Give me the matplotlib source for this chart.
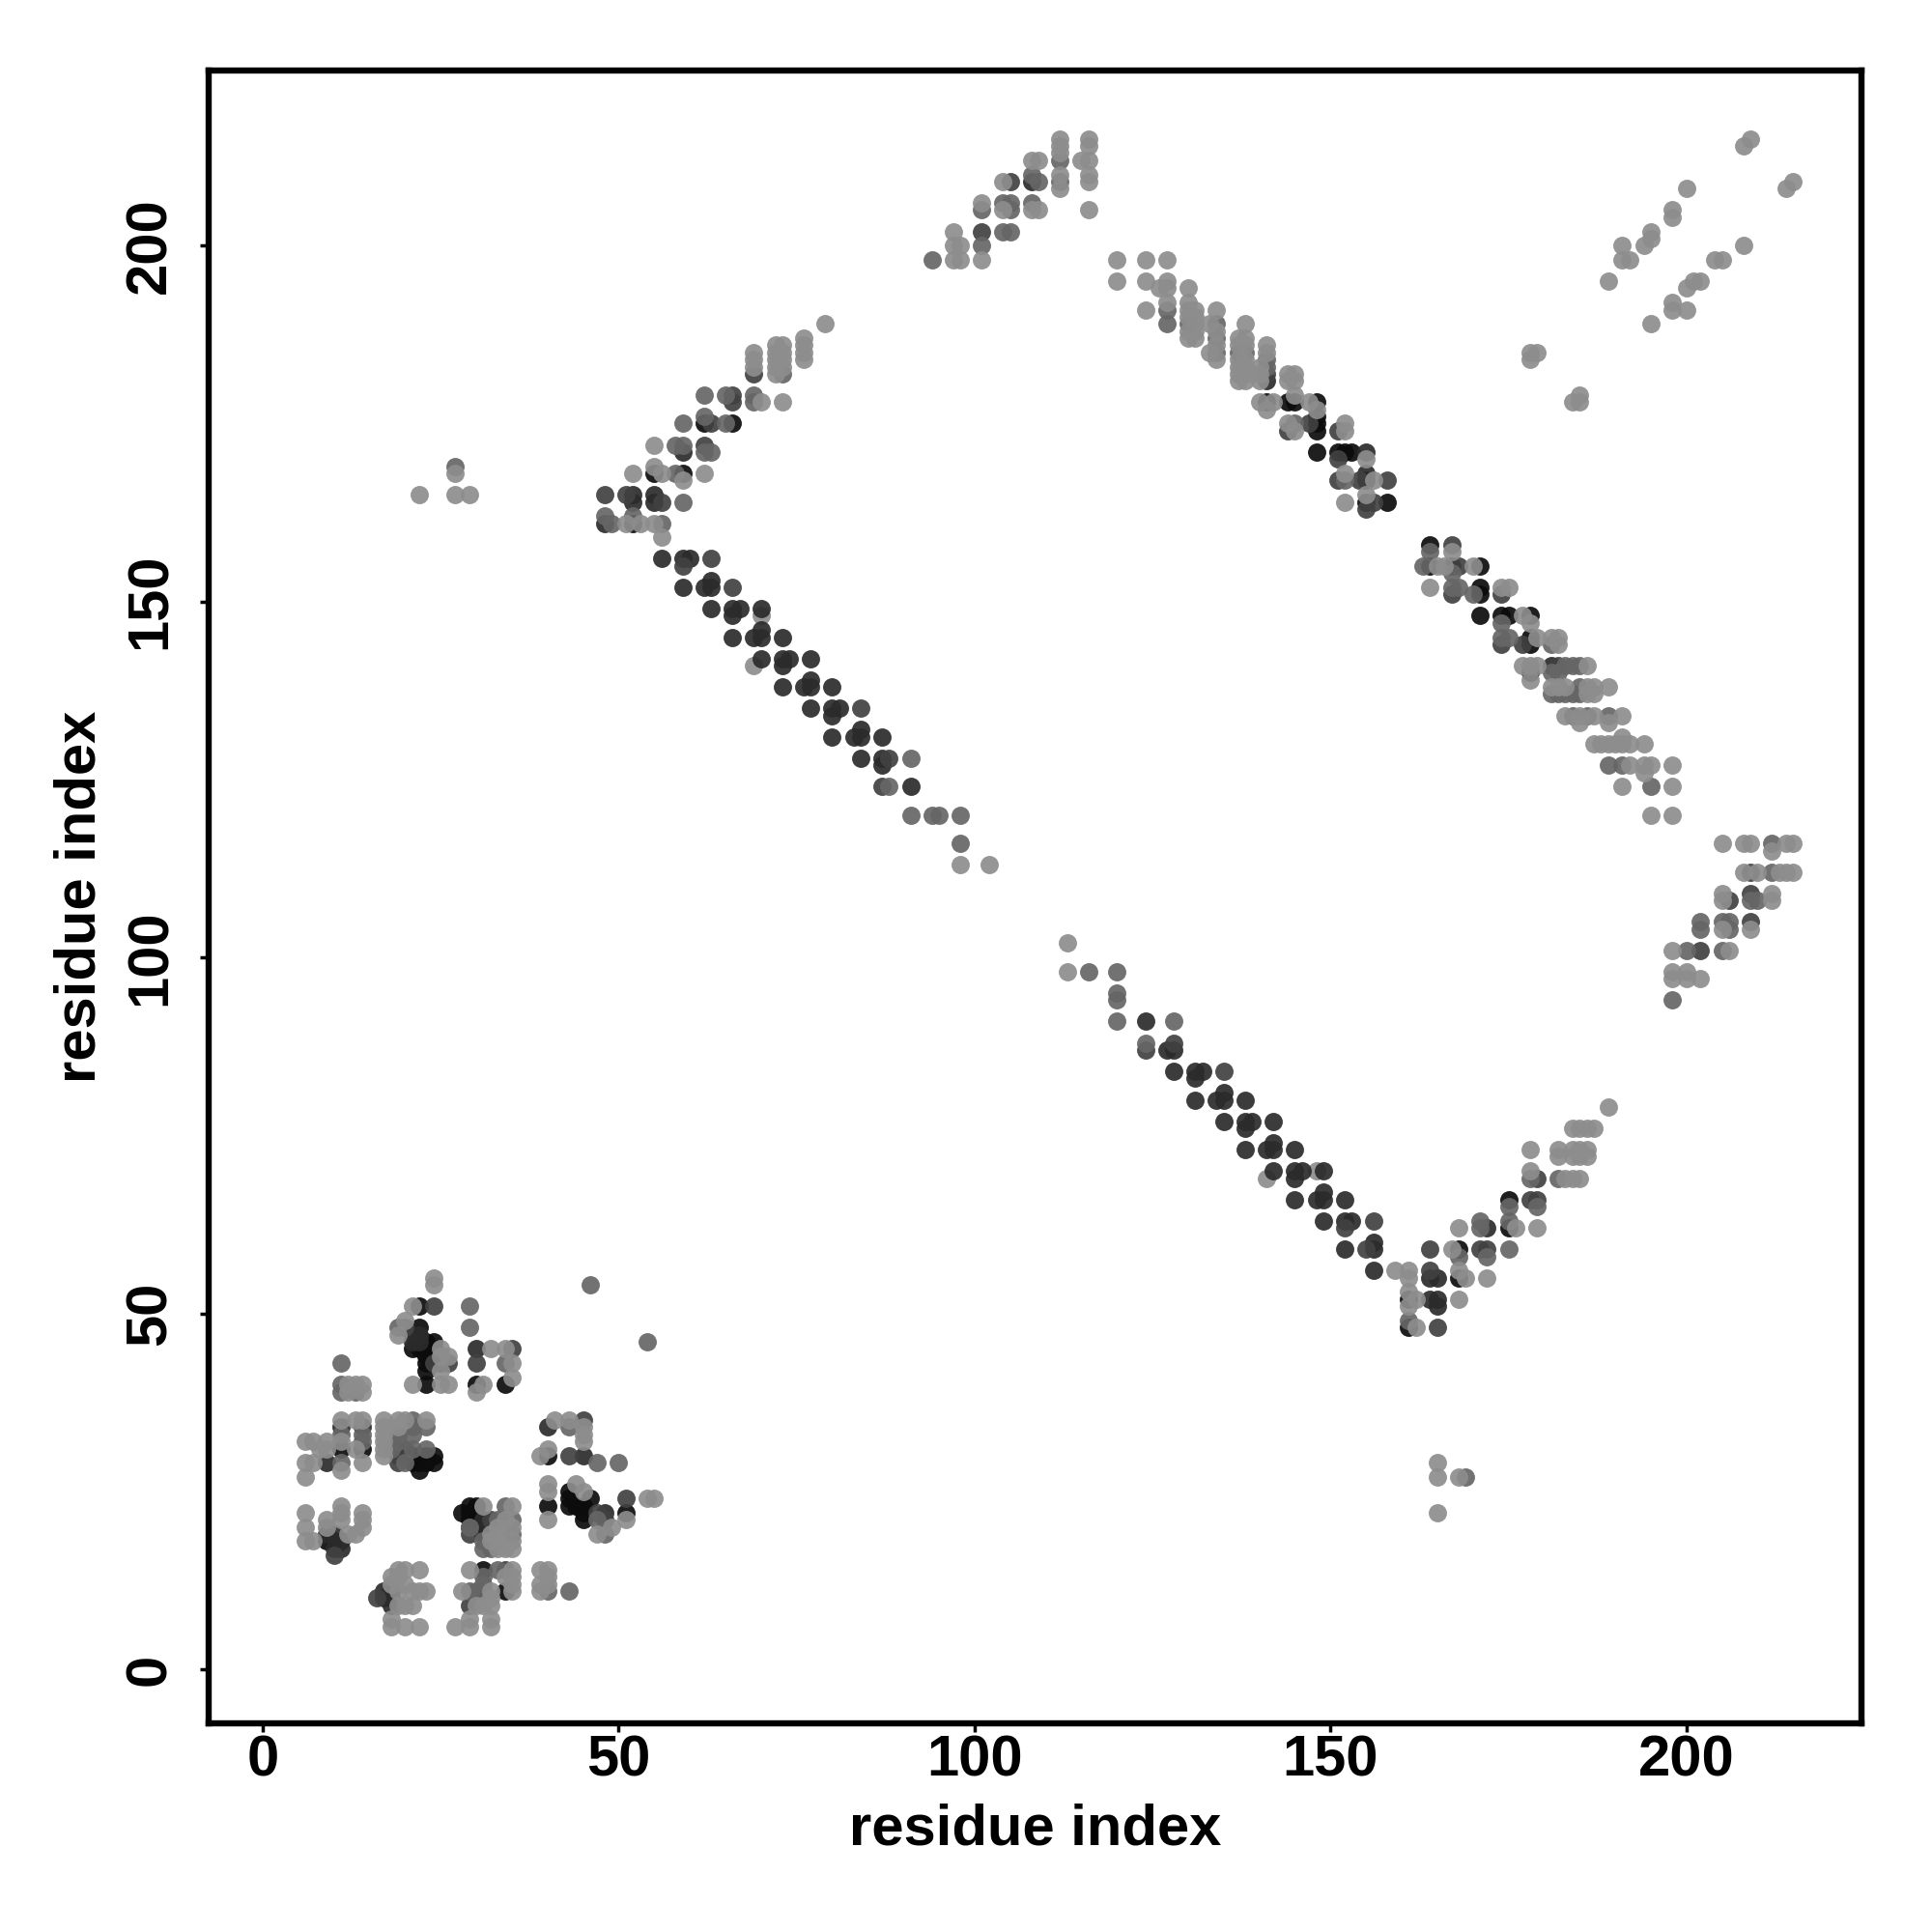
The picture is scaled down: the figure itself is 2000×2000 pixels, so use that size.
"""Residue contact map, greyscale dots on a residue index grid."""

import matplotlib
import matplotlib.pyplot as plt
import numpy as np

matplotlib.use("Agg")

plt.rcParams["font.family"] = ["Liberation Sans", "DejaVu Sans"]
plt.rcParams["font.weight"] = "bold"

TICKS = [0, 50, 100, 150, 200]
AXIS_LABEL = "residue index"

# (residue, residue) pairs, one list per grey level
under = [(141, 69), (148, 70), (69, 141), (70, 148)]

light = [
    # lower helix and V
    (113, 102), (113, 98), (159, 56), (161, 56), (189, 79), (184, 76), (185, 76), (186, 76), (187, 76),
    (178, 73), (182, 73), (184, 73), (185, 73), (186, 73), (182, 72), (184, 72), (185, 72), (186, 72),
    (183, 69), (184, 69), (185, 69), (178, 70), (168, 62), (176, 62), (179, 62), (167, 59), (168, 56),
    (161, 55), (169, 55), (172, 55), (161, 53), (162, 52), (168, 52), (161, 51), (162, 48),
    # upper left
    (22, 165), (27, 165), (29, 165), (27, 168), (79, 189), (69, 185), (69, 184), (69, 183),
    (72, 186), (73, 186), (72, 185), (73, 185), (72, 184), (73, 184), (72, 183), (73, 183), (72, 182),
    (76, 187), (76, 186), (76, 185), (76, 184), (70, 178), (73, 178), (55, 172), (55, 169), (52, 168),
    (56, 168), (62, 168), (59, 167), (53, 161), (55, 161), (51, 161), (56, 159), (98, 113), (102, 113),
    # top
    (97, 198), (98, 198), (101, 198), (97, 200), (98, 200), (97, 202), (101, 206), (104, 205), (108, 205),
    (109, 205), (104, 209), (108, 212), (109, 212), (112, 215), (112, 214), (112, 213), (112, 210),
    (112, 208), (116, 215), (116, 214), (115, 212), (116, 212), (116, 210), (116, 209), (116, 205),
    # top right
    (209, 215), (208, 214), (215, 209), (214, 208), (200, 208), (198, 205), (198, 204), (195, 202),
    (195, 201), (194, 200), (191, 200), (191, 198), (192, 198), (189, 195), (208, 200), (204, 198),
    (205, 198), (202, 195), (201, 195), (200, 194), (198, 192), (198, 191), (200, 191), (195, 189),
    (178, 185), (179, 185), (178, 184), (185, 179), (185, 178), (184, 178),
    (165, 29), (165, 27), (168, 27), (165, 22),
    # upper right helix
    (120, 198), (124, 198), (127, 198), (120, 195), (124, 195), (127, 195), (126, 194), (127, 194),
    (127, 192), (124, 191), (130, 194), (130, 192), (130, 191), (130, 190), (130, 188), (130, 187),
    (131, 191), (131, 190), (131, 189), (131, 188), (131, 187), (133, 189), (133, 185), (134, 191),
    (134, 188), (134, 186), (134, 184), (137, 187), (137, 186), (137, 184), (137, 183), (137, 182),
    (137, 181), (138, 189), (138, 187), (138, 186), (138, 184), (138, 183), (138, 182), (138, 181),
    (140, 183), (140, 182), (140, 181), (141, 186), (141, 185), (144, 182), (145, 182), (144, 181),
    (145, 181), (140, 178), (142, 178), (141, 177), (145, 179), (147, 178), (148, 177), (144, 175),
    (145, 174), (155, 170), (152, 175), (152, 174), (152, 168), (156, 167), (155, 165), (152, 164),
    (167, 157), (165, 155), (166, 155), (170, 155), (164, 152), (174, 152), (175, 152), (177, 148),
    (178, 147), (179, 145), (181, 145), (182, 145), (182, 144), (177, 141), (178, 141), (179, 141),
    (186, 141), (178, 139), (181, 138), (182, 138), (183, 138), (186, 138), (187, 138), (189, 138),
    (186, 137), (187, 137), (183, 134), (185, 134), (187, 134), (191, 134), (185, 133), (189, 133),
    (187, 130), (188, 130), (189, 130), (190, 130), (191, 130), (192, 130), (194, 130), (191, 131),
    (192, 127), (194, 127), (195, 127), (198, 127), (194, 126), (191, 124), (198, 124), (195, 120), (198, 120),
    # right edge
    (205, 116), (208, 116), (209, 116), (214, 116), (215, 116), (212, 115), (208, 112), (210, 112),
    (213, 112), (214, 112), (215, 112), (205, 109), (212, 109), (205, 108), (212, 108), (205, 104),
    (209, 104), (198, 101), (206, 101), (198, 98), (200, 98), (198, 97), (200, 97), (202, 97),
    # bottom left cluster
    (24, 55), (24, 54), (21, 51), (20, 49), (19, 47), (25, 45), (26, 44), (25, 44), (25, 42), (32, 45), (34, 45),
    (35, 43), (35, 41), (12, 40), (13, 40), (14, 40), (21, 40), (25, 40), (26, 40), (31, 40), (30, 39),
    (12, 39), (14, 39), (11, 35), (13, 35), (14, 35), (17, 35), (19, 35), (20, 35), (23, 35), (41, 35),
    (43, 35), (45, 34), (17, 34), (19, 34), (17, 33), (6, 32), (7, 32), (9, 32),
    (11, 32), (17, 32), (45, 33), (45, 32), (40, 31), (8, 31), (9, 31), (13, 31), (17, 31),
    (17, 30), (39, 30), (6, 29), (7, 29), (14, 29), (11, 28), (6, 27),
    (40, 26), (44, 26), (40, 25), (45, 25), (40, 21), (51, 21), (54, 24), (55, 24), (49, 20), (47, 19),
    (31, 23), (35, 23), (34, 21), (33, 20), (35, 20), (32, 19), (33, 19), (32, 18),
    (33, 18), (35, 18), (33, 17), (34, 17), (35, 17),
    (6, 22), (6, 20), (6, 18), (7, 18), (9, 21), (9, 20), (11, 23), (11, 22), (11, 21), (12, 19), (13, 19),
    (14, 22), (14, 21), (14, 20),
    (19, 14), (20, 14), (22, 14), (29, 14), (35, 14), (39, 14), (40, 14), (18, 13), (19, 13), (18, 12),
    (20, 12), (35, 12), (39, 12), (40, 12), (34, 13), (35, 13), (40, 13), (39, 11), (19, 11), (21, 11),
    (22, 11), (23, 11), (19, 9), (20, 9), (21, 9), (18, 7), (18, 6), (20, 6), (22, 6), (27, 6), (29, 6),
    (29, 7), (32, 6), (32, 7), (28, 11), (32, 11), (35, 11), (30, 9), (31, 9), (32, 9), (32, 10),
]

mid = [
    (116, 98), (120, 98), (120, 95), (120, 94), (120, 91), (128, 91), (124, 88),
    (178, 69), (182, 69), (175, 65), (179, 65), (171, 63), (171, 62), (175, 63), (175, 59), (168, 58),
    (172, 58), (161, 49),
    (27, 169), (73, 182), (62, 179), (65, 179), (69, 179), (69, 178), (62, 176), (59, 175), (65, 175),
    (58, 172), (59, 172), (62, 171), (63, 171), (58, 168), (59, 164), (48, 162), (52, 162), (49, 161),
    (56, 161), (88, 124), (91, 128), (91, 120), (94, 120), (95, 120), (98, 120), (98, 116),
    (94, 198), (101, 200), (104, 202), (105, 202), (104, 206), (105, 206), (105, 205), (108, 206),
    (108, 210), (109, 209), (112, 212), (112, 209), (101, 205), (169, 27),
    (127, 191), (127, 189), (130, 189), (134, 189), (134, 187), (134, 185), (137, 185), (138, 185),
    (141, 184), (141, 183), (145, 175), (152, 167), (164, 157), (163, 155), (167, 154), (167, 152),
    (168, 152), (170, 151), (174, 147), (174, 145), (175, 145), (181, 144), (183, 141), (184, 141),
    (185, 141), (181, 140), (182, 140), (185, 138), (181, 137), (182, 137), (183, 137), (184, 137),
    (185, 137), (184, 134), (186, 134), (189, 134), (189, 127), (191, 127), (195, 124),
    (212, 116), (212, 112), (209, 108), (210, 108), (202, 105), (205, 105), (206, 105), (202, 104),
    (206, 104), (200, 101), (205, 101), (198, 94),
    (46, 54), (54, 46), (29, 51), (29, 48), (19, 48), (11, 43), (34, 43), (11, 40), (11, 39), (13, 39),
    (21, 35), (43, 34), (11, 33), (14, 33), (14, 32), (47, 29), (50, 29), (21, 34), (23, 34), (23, 31),
    (18, 31), (21, 31), (11, 29), (20, 29), (31, 17), (29, 20), (34, 23), (35, 21), (48, 19), (47, 21),
    (33, 14), (31, 13), (30, 11), (29, 11), (31, 12), (40, 11), (43, 11), (31, 18),
    (19, 33), (19, 32), (21, 33), (33, 21), (35, 19), (32, 17),
]

dim = [
    (128, 88), (124, 87), (135, 84), (156, 63), (152, 62), (155, 59),
    (179, 69), (178, 66), (179, 66), (164, 59), (171, 59), (172, 59), (164, 56), (165, 48),
    (69, 182), (66, 179), (66, 178), (63, 175), (62, 172), (48, 165), (51, 165), (56, 164), (63, 156),
    (66, 152), (59, 155), (84, 135), (88, 128), (87, 124),
    (101, 202), (105, 209), (141, 182), (147, 175), (144, 174), (151, 170), (151, 174), (151, 167),
    (154, 167), (158, 167), (156, 164), (155, 163), (167, 158), (168, 155), (167, 151), (174, 151),
    (174, 144), (177, 144), (182, 141),
    (209, 112), (209, 109), (206, 108), (209, 105), (202, 101),
    (24, 51), (20, 48), (24, 43), (26, 43), (30, 43), (35, 45), (45, 35), (43, 30), (19, 31), (19, 30),
    (19, 29), (47, 22), (51, 24), (48, 21), (10, 16), (16, 10), (29, 19), (32, 21), (29, 9), (34, 14),
]

dark = [
    (124, 91), (127, 87), (128, 87), (128, 84), (131, 84), (132, 84), (131, 83), (135, 81), (131, 80),
    (134, 80), (135, 80), (138, 80), (135, 77), (138, 77), (139, 77), (142, 77), (138, 76), (142, 74),
    (138, 73), (141, 73), (142, 73), (145, 73), (142, 70), (145, 70), (146, 70), (149, 70), (145, 69),
    (145, 66), (148, 66), (149, 66), (152, 66), (149, 67), (149, 63), (152, 63), (153, 63), (152, 59),
    (156, 59), (156, 60), (156, 56),
    (172, 62), (164, 55), (165, 55), (164, 52), (165, 52), (165, 51),
    (59, 171), (52, 165), (55, 165), (52, 164), (55, 164), (48, 161), (56, 156), (59, 156), (60, 156),
    (59, 152), (62, 152), (63, 152), (63, 153), (63, 149), (66, 149), (67, 149), (70, 149), (66, 148),
    (66, 145), (69, 145), (70, 145), (73, 145), (70, 146), (70, 142), (73, 142), (74, 142), (77, 142),
    (73, 141), (73, 138), (76, 138), (77, 138), (80, 138), (77, 139), (77, 135), (80, 135), (81, 135),
    (80, 134), (80, 131), (83, 131), (84, 131), (87, 131), (84, 132), (84, 128), (87, 128), (87, 127), (91, 124),
    (108, 209), (141, 181), (155, 168), (155, 171), (181, 141),
    (21, 47), (22, 47), (21, 46), (22, 46), (30, 45), (45, 30), (40, 34), (20, 31), (20, 30), (9, 19),
    (10, 19), (11, 18), (11, 17), (10, 17), (9, 29), (48, 22), (29, 20), (31, 20), (32, 20), (31, 21),
    (17, 11), (18, 11), (17, 10), (18, 10), (18, 9), (11, 34), (14, 34),
]

black = [
    (175, 66), (175, 62), (168, 59), (168, 55), (161, 52), (161, 48),
    (62, 175), (66, 175), (59, 168), (55, 168), (52, 161),
    (141, 178), (144, 178), (145, 178), (148, 178), (148, 175), (148, 176), (148, 174), (148, 171),
    (151, 171), (152, 171), (153, 171), (155, 167), (155, 164), (158, 164),
    (164, 158), (164, 155), (167, 155), (171, 155), (171, 151), (171, 152), (171, 148), (174, 148),
    (175, 148), (178, 148), (178, 145), (178, 144), (178, 140),
    (22, 51), (22, 48), (21, 45), (22, 45), (23, 46), (24, 46), (23, 45), (24, 45), (23, 44), (25, 44),
    (23, 43), (25, 43), (23, 42), (23, 40), (30, 40), (34, 40), (11, 31), (14, 31), (20, 30), (21, 30),
    (22, 30), (23, 30), (24, 30), (21, 29), (22, 29), (23, 29), (24, 29), (22, 28), (40, 30),
    (43, 25), (43, 24), (46, 24), (40, 23), (43, 23), (44, 23), (45, 23), (45, 22), (45, 21), (51, 22),
    (28, 22), (29, 22), (29, 23), (30, 23), (29, 21), (30, 21), (30, 20), (31, 19), (9, 18), (10, 18),
    (31, 14), (31, 11), (34, 11),
]

# back to front, light dots sit on top of the dark ones as in the picture
LAYERS = [
    (under, "#8d8d8d"),
    (black, "#0c0c0c"),
    (dark, "#2b2b2b"),
    (dim, "#414141"),
    (mid, "#666666"),
    (light, "#8d8d8d"),
]


def main():
    fig = plt.figure(figsize=(20, 20), dpi=100)
    ax = fig.add_axes([216 / 2000, 1 - 1784 / 2000, 1711 / 2000, 1711 / 2000])

    for pairs, color in LAYERS:
        xs, ys = np.array(pairs).T
        ax.scatter(xs, ys, s=185, c=color, alpha=0.92, linewidths=0, zorder=2)

    ax.set_xlim(-7.6, 224.6)
    ax.set_ylim(-7.6, 224.6)
    ax.set_xticks(TICKS)
    ax.set_yticks(TICKS)
    ax.tick_params(length=6.5, width=2.5, labelsize=43, pad=2)
    ax.tick_params(axis="y", pad=17)
    for lab in ax.get_yticklabels():
        lab.set_rotation(90)
        lab.set_va("center")
    for spine in ax.spines.values():
        spine.set_linewidth(4.6)

    ax.set_xlabel(AXIS_LABEL, fontsize=43, fontweight="bold", labelpad=11)
    ax.set_ylabel(AXIS_LABEL, fontsize=43, fontweight="bold", labelpad=13)

    fig.savefig("out.png", dpi=100, facecolor="white")
    plt.close(fig)


if __name__ == "__main__":
    main()
